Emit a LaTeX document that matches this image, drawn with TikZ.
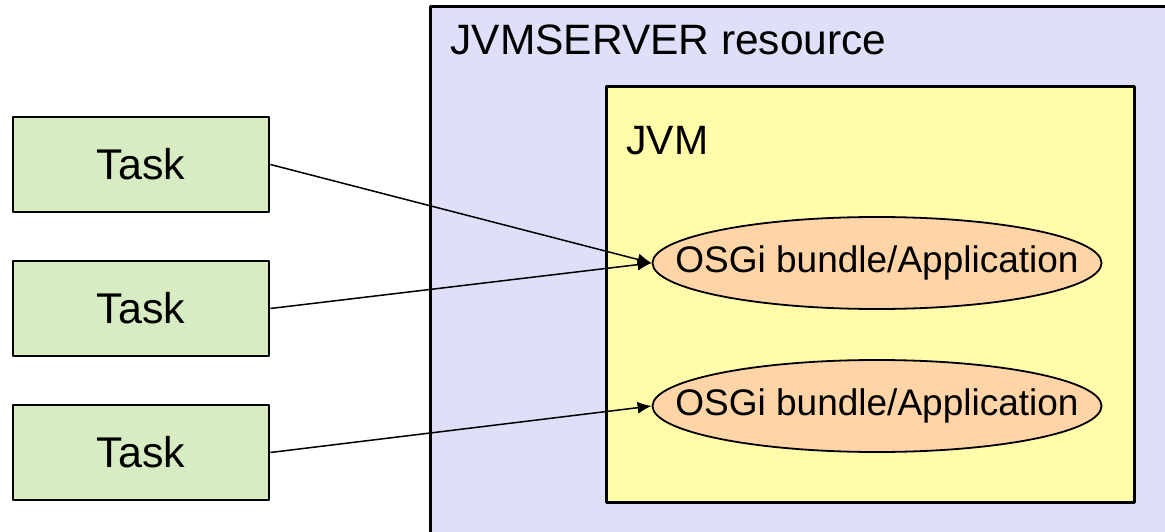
\documentclass[tikz,border=0pt]{standalone}
\usepackage{fontspec}
\setmainfont{Liberation Sans}
\usetikzlibrary{shapes.geometric,arrows.meta}
\definecolor{serverfill}{HTML}{DDE0F8}
\definecolor{jvmfill}{HTML}{FFFCAA}
\definecolor{taskfill}{HTML}{D8ECC4}
\definecolor{bundlefill}{HTML}{FFD5A8}
\begin{document}
\begin{tikzpicture}[x=1pt, y=-1pt, line join=round, line width=2.8pt,
  box/.style={draw, rectangle, inner sep=0pt},
  label/.style={anchor=base west, inner sep=0pt, font=\fontsize{42.5}{50}\selectfont},
  taskbox/.style={box, fill=taskfill, minimum width=256pt, minimum height=95pt, font=\fontsize{43}{50}\selectfont},
  bundle/.style={draw, ellipse, fill=bundlefill, line width=1.8pt, minimum width=449pt, minimum height=92pt, inner xsep=-45pt, inner ysep=0pt, font=\fontsize{37}{44}\selectfont},
  link/.style={line width=1.5pt, -{Latex[length=14pt,width=12pt]}}]
\useasboundingbox (0,0) rectangle (1165,532);
% server resource and its JVM
\node[box, fill=serverfill, minimum width=760pt, minimum height=560pt, anchor=north west] (server) at (429,5) {};
\node[label] (serverlabel) at (449,55) {JVMSERVER resource};
\node[box, fill=jvmfill, minimum width=528pt, minimum height=416pt, anchor=north west] (jvm) at (605,85) {};
\node[label, font=\fontsize{41}{48}\selectfont] (jvmlabel) at (625,155) {JVM};
\node[bundle] (bundleA) at (877,263) {OSGi bundle/Application};
\node[bundle] (bundleB) at (877,406) {OSGi bundle/Application};
% tasks
\foreach \y/\t in {164.5/1,308.5/2,452.5/3}
\node[taskbox] (task\t) at (141,\y) {Task};
\draw[link] (task1.east) -- (bundleA.west);
\draw[link] (task2.east) -- (bundleA.west);
\draw[link] (task3.east) -- (bundleB.west);
\end{tikzpicture}
\end{document}
